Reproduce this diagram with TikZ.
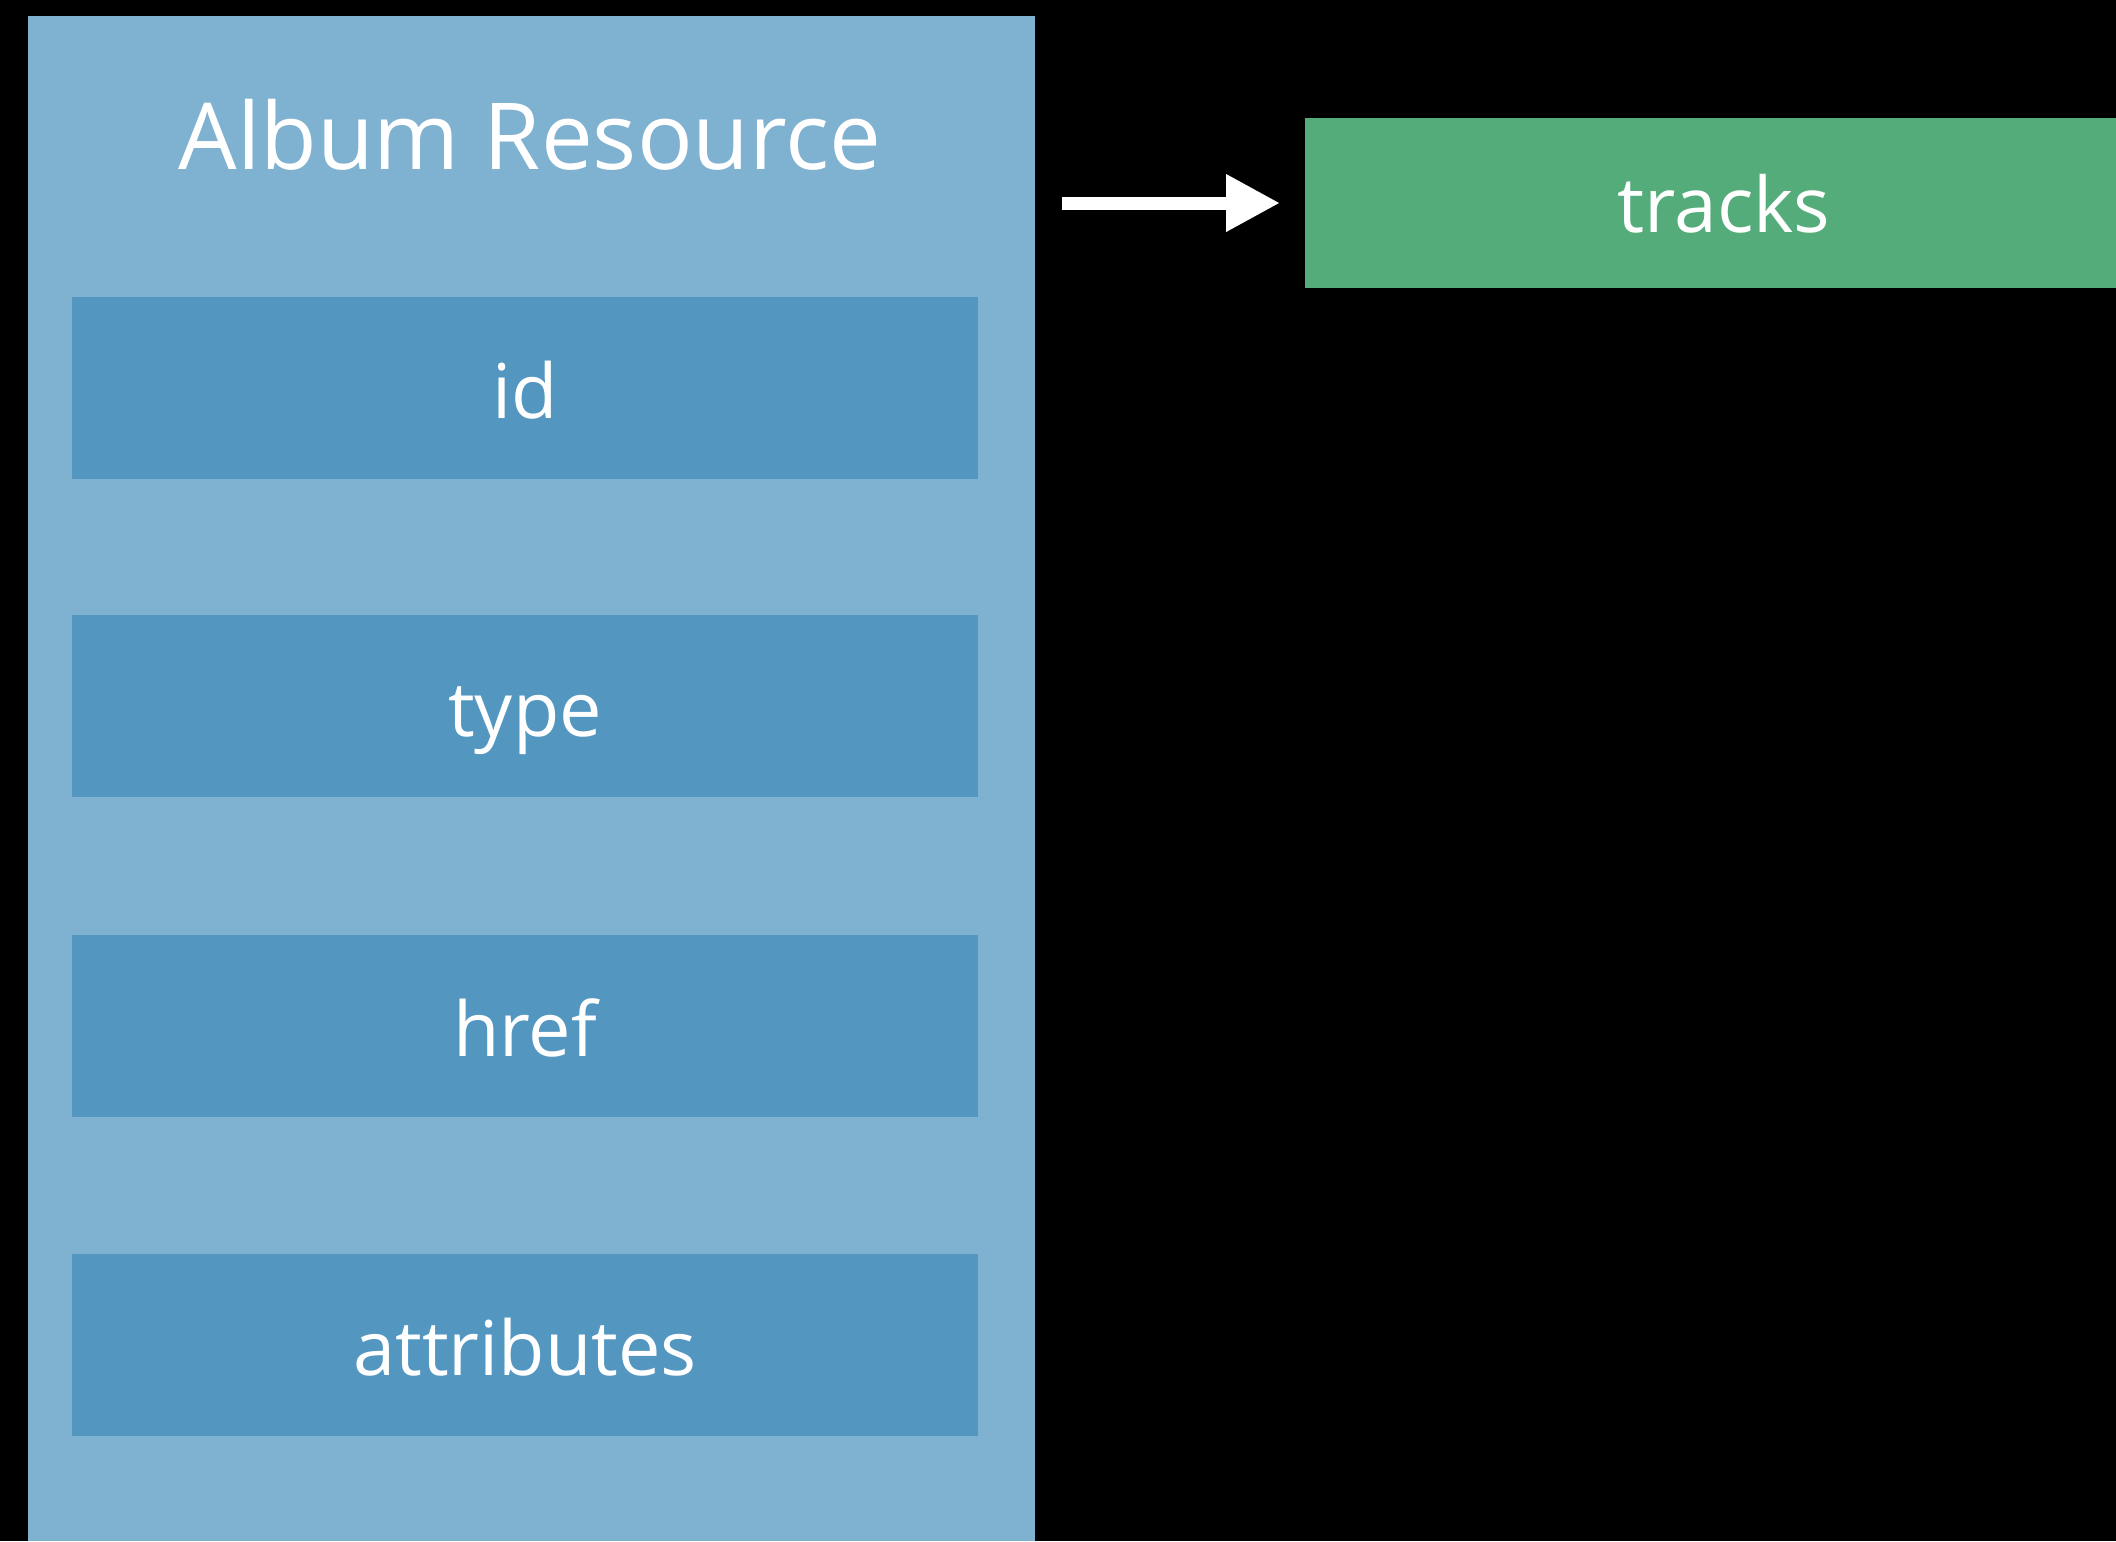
\documentclass[tikz,border=0pt]{standalone}
\usepackage{fontspec}
\setmainfont{Open Sans}
\usepackage{tikz}
\usetikzlibrary{positioning}
\usetikzlibrary{arrows.meta,calc}
\definecolor{panelblue}{RGB}{127,177,209}
\definecolor{fieldblue}{RGB}{83,151,193}
\definecolor{relgreen}{RGB}{85,172,123}
\tikzstyle{panel}=[rectangle,fill=panelblue,minimum width=10.07cm,minimum height=15.25cm,inner sep=0pt]
\tikzstyle{field}=[rectangle,fill=fieldblue,minimum width=9.06cm,minimum height=1.82cm,inner sep=0pt,text=white,text height=17.6pt,text depth=0pt,font=\fontsize{21.5}{26}\selectfont]
\tikzstyle{relation}=[rectangle,fill=relgreen,minimum width=8.38cm,minimum height=1.70cm,inner sep=0pt,text=white,text height=17pt,text depth=0pt,font=\fontsize{21.8}{26}\selectfont]
\tikzstyle{heading} = [text=white,font=\fontsize{26.3}{32}\selectfont,inner sep=0pt]
\tikzstyle{link} = [draw,white,line width=0.13cm,-{Triangle[length=0.54cm,width=0.54cm]}]

\begin{document}
\begin{tikzpicture}[x=0.01cm,y=-0.01cm]
    % black page
    \fill[black] (0,0) rectangle (2116,1541);
    \useasboundingbox (0,0) rectangle (2116,1541);
    % the resource and its fields
    \node[panel] (album) at (531.5,778.5) {};
    \node[heading,anchor=base] (albumtitle) at (530,169) {Album Resource};
    \foreach \ypos/\name/\label in {388/id/id, 706/type/type, 1026/href/href, 1345/attr/attributes}
        \node[field] (\name) at (525,\ypos) {\label};
    % the relationship
    \node[relation] (tracks) at (1724,203) {tracks};
    \path[link,shorten <=0.26cm,shorten >=0.24cm] (album.east |- tracks.west) -- (tracks.west);
\end{tikzpicture}
\end{document}
